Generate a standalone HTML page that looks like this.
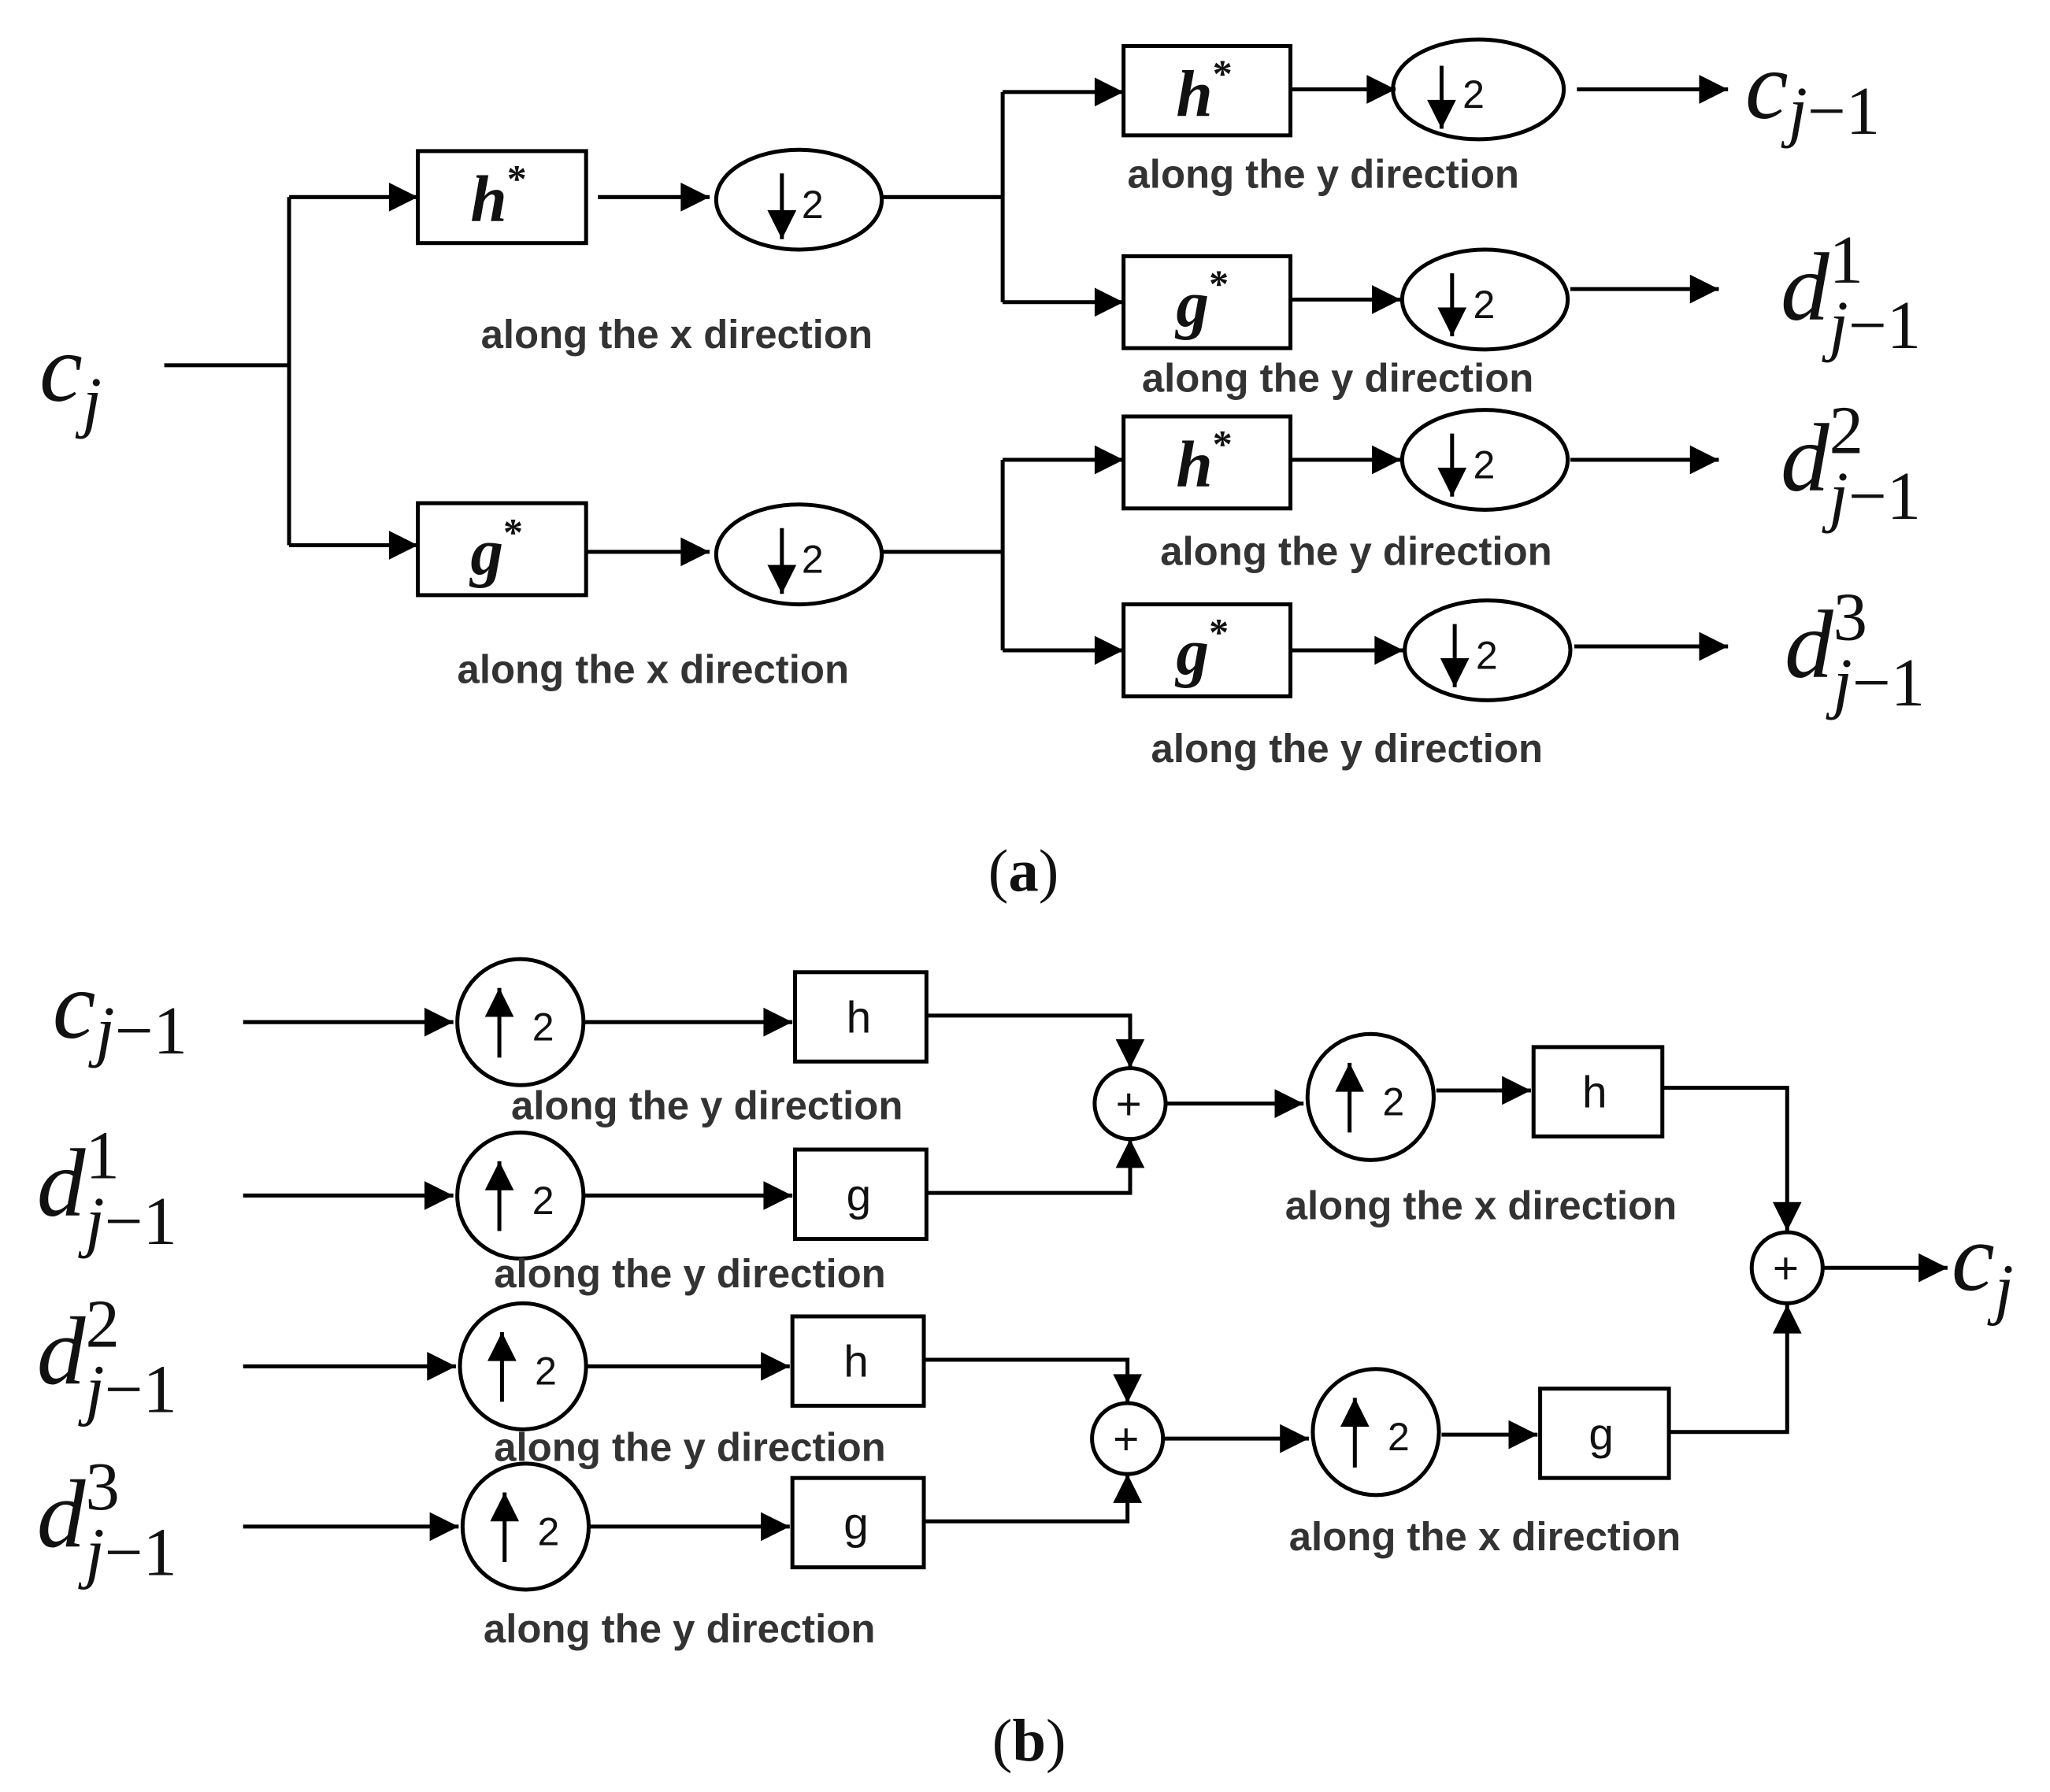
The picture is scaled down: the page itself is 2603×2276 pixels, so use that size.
<!DOCTYPE html>
<html><head><meta charset="utf-8"><style>html,body{margin:0;padding:0;background:#fff}svg{display:block}
.l{font-family:"Liberation Sans",sans-serif;font-size:30.5px;font-weight:bold;fill:#333;text-anchor:middle}
.m{font-family:"Liberation Serif",serif;font-style:italic;font-size:74px;fill:#111}
.s{font-family:"Liberation Serif",serif;font-size:46px;fill:#111}
.bx{font-family:"Liberation Serif",serif;font-style:italic;font-weight:bold;font-size:50px;fill:#111}
.bs{font-family:"Liberation Sans",sans-serif;font-size:34px;fill:#111}
.two{font-family:"Liberation Sans",sans-serif;font-size:30px;fill:#111}
</style></head><body>
<svg width="2603" height="2276" viewBox="0 0 1560 1364" xmlns="http://www.w3.org/2000/svg">
<defs><marker id="a" viewBox="0 0 10 10" refX="10" refY="5" markerWidth="26" markerHeight="22" markerUnits="userSpaceOnUse" orient="auto"><path d="M0,0L10,5L0,10z" fill="#000"/></marker></defs>
<g stroke="#000" stroke-width="3" fill="none">
<path d="M125,278H220M220,150V415"/>
<path d="M220,150H318" marker-end="url(#a)"/><path d="M220,415H318" marker-end="url(#a)"/>
<rect x="318" y="115" width="128" height="70"/><rect x="318" y="383" width="128" height="70"/>
<path d="M455,150H540" marker-end="url(#a)"/><path d="M446,420H540" marker-end="url(#a)"/>
<ellipse cx="608" cy="152" rx="63" ry="38"/><ellipse cx="608" cy="422" rx="63" ry="38"/>
<path d="M672,150H763M763,70V230M672,420H763M763,350V495"/>
<path d="M763,70H855" marker-end="url(#a)"/><path d="M763,230H855" marker-end="url(#a)"/>
<path d="M763,350H855" marker-end="url(#a)"/><path d="M763,495H855" marker-end="url(#a)"/>
<rect x="855" y="35" width="127" height="68"/><rect x="855" y="195" width="127" height="70"/>
<rect x="855" y="317" width="127" height="70"/><rect x="855" y="460" width="127" height="70"/>
<path d="M982,68H1062" marker-end="url(#a)"/><path d="M982,228H1066" marker-end="url(#a)"/>
<path d="M982,350H1066" marker-end="url(#a)"/><path d="M982,495H1068" marker-end="url(#a)"/>
<ellipse cx="1125" cy="68" rx="65" ry="38"/><ellipse cx="1130" cy="228" rx="63" ry="38"/>
<ellipse cx="1130" cy="350" rx="63" ry="38"/><ellipse cx="1132" cy="495" rx="63" ry="38"/>
<path d="M1200,68H1315" marker-end="url(#a)"/><path d="M1195,220H1308" marker-end="url(#a)"/>
<path d="M1195,350H1308" marker-end="url(#a)"/><path d="M1198,492H1315" marker-end="url(#a)"/>
<path d="M595,132V182" marker-end="url(#a)"/><path d="M595,402V452" marker-end="url(#a)"/>
<path d="M1097,50V98" marker-end="url(#a)"/><path d="M1105,208V256" marker-end="url(#a)"/>
<path d="M1105,330V378" marker-end="url(#a)"/><path d="M1107,475V523" marker-end="url(#a)"/>
<path d="M185,778H345" marker-end="url(#a)"/><path d="M185,910H345" marker-end="url(#a)"/>
<path d="M185,1040H347" marker-end="url(#a)"/><path d="M185,1162H349" marker-end="url(#a)"/>
<circle cx="396" cy="778" r="48"/><circle cx="396" cy="910" r="48"/><circle cx="398" cy="1040" r="48"/><circle cx="400" cy="1162" r="48"/>
<path d="M380,805V752" marker-end="url(#a)"/><path d="M380,937V884" marker-end="url(#a)"/><path d="M382,1067V1014" marker-end="url(#a)"/><path d="M384,1189V1136" marker-end="url(#a)"/>
<path d="M445,778H603" marker-end="url(#a)"/><path d="M445,910H603" marker-end="url(#a)"/>
<path d="M447,1040H601" marker-end="url(#a)"/><path d="M449,1162H601" marker-end="url(#a)"/>
<rect x="605" y="740" width="100" height="68"/><rect x="605" y="875" width="100" height="68"/>
<rect x="603" y="1002" width="100" height="68"/><rect x="603" y="1125" width="100" height="68"/>
<path d="M705,773H860V813" marker-end="url(#a)"/><path d="M705,908H860V867" marker-end="url(#a)"/>
<path d="M703,1035H858V1068" marker-end="url(#a)"/><path d="M703,1158H858V1122" marker-end="url(#a)"/>
<circle cx="860" cy="840" r="27"/><circle cx="858" cy="1095" r="27"/><circle cx="1360" cy="965" r="27"/>
<path d="M888,840H992" marker-end="url(#a)"/><path d="M886,1095H996" marker-end="url(#a)"/>
<circle cx="1043" cy="835" r="48"/><circle cx="1047" cy="1090" r="48"/>
<path d="M1027,862V809" marker-end="url(#a)"/><path d="M1031,1117V1064" marker-end="url(#a)"/>
<path d="M1093,830H1165" marker-end="url(#a)"/><path d="M1097,1092H1170" marker-end="url(#a)"/>
<rect x="1167" y="797" width="98" height="68"/><rect x="1172" y="1057" width="98" height="68"/>
<path d="M1265,828H1360V937" marker-end="url(#a)"/><path d="M1270,1090H1360V993" marker-end="url(#a)"/>
<path d="M1388,965H1482" marker-end="url(#a)"/>
</g>
<text class="m" x="30" y="305">c<tspan font-size="52" dy="18">j</tspan></text>
<text class="bx" x="358" y="168">h<tspan font-size="30" dy="-22" font-style="normal">*</tspan></text>
<text class="bx" x="358" y="437">g<tspan font-size="30" dy="-22" font-style="normal">*</tspan></text>
<text class="bx" x="895" y="88">h<tspan font-size="30" dy="-22" font-style="normal">*</tspan></text>
<text class="bx" x="895" y="248">g<tspan font-size="30" dy="-22" font-style="normal">*</tspan></text>
<text class="bx" x="895" y="370">h<tspan font-size="30" dy="-22" font-style="normal">*</tspan></text>
<text class="bx" x="895" y="513">g<tspan font-size="30" dy="-22" font-style="normal">*</tspan></text>
<text class="two" x="610" y="166">2</text><text class="two" x="610" y="436">2</text>
<text class="two" x="1113" y="82">2</text><text class="two" x="1121" y="242">2</text>
<text class="two" x="1121" y="364">2</text><text class="two" x="1123" y="509">2</text>
<text class="l" x="515" y="265">along the x direction</text>
<text class="l" x="497" y="520">along the x direction</text>
<text class="l" x="1007" y="143">along the y direction</text>
<text class="l" x="1018" y="298">along the y direction</text>
<text class="l" x="1032" y="430">along the y direction</text>
<text class="l" x="1025" y="580">along the y direction</text>
<text class="m" x="1328" y="90">c<tspan font-size="52" dy="12">j</tspan><tspan font-size="52" font-style="normal">−1</tspan></text>
<text class="m" x="1355" y="243">d<tspan font-size="52" dy="-28" dx="0" font-style="normal">1</tspan><tspan font-size="52" dx="-26" dy="50">j</tspan><tspan font-size="52" font-style="normal">−1</tspan></text>
<text class="m" x="1355" y="373">d<tspan font-size="52" dy="-28" dx="0" font-style="normal">2</tspan><tspan font-size="52" dx="-26" dy="50">j</tspan><tspan font-size="52" font-style="normal">−1</tspan></text>
<text class="m" x="1358" y="515">d<tspan font-size="52" dy="-28" dx="0" font-style="normal">3</tspan><tspan font-size="52" dx="-26" dy="50">j</tspan><tspan font-size="52" font-style="normal">−1</tspan></text>
<text class="s" x="752" y="678">(<tspan font-weight="bold">a</tspan>)</text>
<text class="m" x="40" y="790">c<tspan font-size="52" dy="12">j</tspan><tspan font-size="52" font-style="normal">−1</tspan></text>
<text class="m" x="28" y="925">d<tspan font-size="52" dy="-28" dx="0" font-style="normal">1</tspan><tspan font-size="52" dx="-26" dy="50">j</tspan><tspan font-size="52" font-style="normal">−1</tspan></text>
<text class="m" x="28" y="1053">d<tspan font-size="52" dy="-28" dx="0" font-style="normal">2</tspan><tspan font-size="52" dx="-26" dy="50">j</tspan><tspan font-size="52" font-style="normal">−1</tspan></text>
<text class="m" x="28" y="1177">d<tspan font-size="52" dy="-28" dx="0" font-style="normal">3</tspan><tspan font-size="52" dx="-26" dy="50">j</tspan><tspan font-size="52" font-style="normal">−1</tspan></text>
<text class="two" x="405" y="792">2</text><text class="two" x="405" y="924">2</text>
<text class="two" x="407" y="1054">2</text><text class="two" x="409" y="1176">2</text>
<text class="two" x="1052" y="849">2</text><text class="two" x="1056" y="1104">2</text>
<text class="bs" x="644" y="786">h</text><text class="bs" x="644" y="921">g</text>
<text class="bs" x="642" y="1048">h</text><text class="bs" x="642" y="1171">g</text>
<text class="bs" x="1204" y="843">h</text><text class="bs" x="1209" y="1103">g</text>
<text class="bs" x="849" y="852">+</text><text class="bs" x="847" y="1107">+</text><text class="bs" x="1349" y="977">+</text>
<text class="l" x="538" y="852">along the y direction</text>
<text class="l" x="525" y="980">along the y direction</text>
<text class="l" x="525" y="1112">along the y direction</text>
<text class="l" x="517" y="1250">along the y direction</text>
<text class="l" x="1127" y="928">along the x direction</text>
<text class="l" x="1130" y="1180">along the x direction</text>
<text class="m" x="1485" y="982">c<tspan font-size="52" dy="16">j</tspan></text>
<text class="s" x="755" y="1340">(<tspan font-weight="bold">b</tspan>)</text>
</svg>
</body></html>
